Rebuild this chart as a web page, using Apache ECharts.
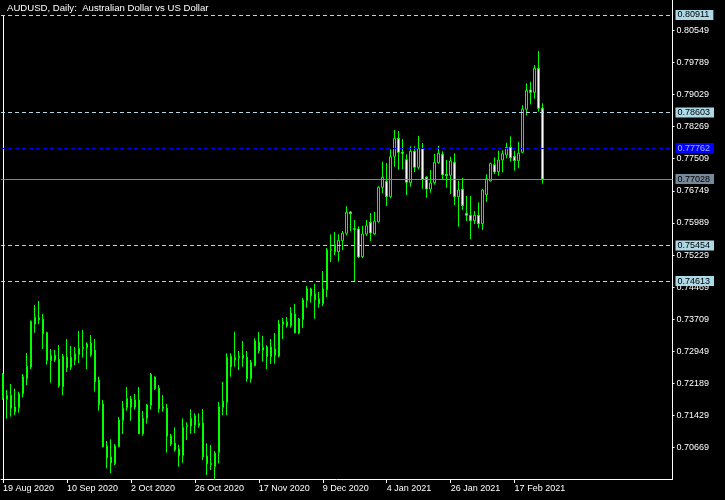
<!DOCTYPE html>
<html><head><meta charset="utf-8">
<script src="https://cdn.jsdelivr.net/npm/echarts@6/dist/echarts.min.js"></script>
<style>html,body{margin:0;padding:0;background:#000;}#c{width:725px;height:500px;}</style>
</head><body><div id="c"></div>
<script>
// Daily AUDUSD candles, 19 Aug 2020 .. 26 Feb 2021 (136 bars)
const openValues = [0.72413,0.71815,0.71909,0.71632,0.71616,0.71947,0.72302,0.72579,0.73590,0.73739,
0.73708,0.73391,0.72728,0.72856,0.72761,0.72113,0.72809,0.72572,0.72738,0.72870,
0.73012,0.73036,0.73140,0.72974,0.72271,0.71703,0.70709,0.70449,0.70290,0.70693,
0.71308,0.71616,0.71822,0.71632,0.71798,0.71000,0.71365,0.71673,0.72342,0.72075,
0.71592,0.71602,0.70946,0.70773,0.70631,0.70480,0.71166,0.71182,0.71419,0.71190,
0.71247,0.70472,0.70295,0.70219,0.70551,0.71625,0.71734,0.72832,0.72745,0.72799,
0.72856,0.72809,0.72302,0.72610,0.73171,0.72974,0.73053,0.72823,0.73005,0.72839,
0.73590,0.73644,0.73557,0.73834,0.73377,0.73699,0.74148,0.74425,0.74307,0.74189,
0.74077,0.74409,0.75337,0.75474,0.75308,0.75569,0.75744,0.76248,0.75834,0.75846,
0.75190,0.75727,0.76004,0.75727,0.76018,0.76833,0.76975,0.76610,0.77566,0.77992,
0.77661,0.77486,0.76942,0.77685,0.77306,0.77746,0.77069,0.76792,0.76942,0.77415,
0.77614,0.77140,0.77117,0.77424,0.76610,0.76785,0.76217,0.76170,0.76042,0.76170,
0.75971,0.76657,0.76982,0.77368,0.77202,0.77479,0.77597,0.77779,0.77566,0.77462,
0.77661,0.78679,0.79136,0.79081,0.79649,0.78703];
const closeValues = [0.71834,0.71909,0.71602,0.71521,0.71940,0.72342,0.72596,0.73661,0.73756,0.73699,
0.73367,0.72738,0.72856,0.72745,0.72136,0.72832,0.72563,0.72809,0.72887,0.73022,
0.73045,0.73124,0.72870,0.72231,0.71687,0.70693,0.70432,0.70314,0.70709,0.71325,
0.71602,0.71838,0.71632,0.71798,0.71000,0.71365,0.71680,0.72406,0.72065,0.71592,
0.71632,0.70939,0.70757,0.70614,0.70480,0.71152,0.71190,0.71365,0.71199,0.71247,
0.70456,0.70290,0.70271,0.70543,0.71639,0.71767,0.72809,0.72586,0.72809,0.72832,
0.72792,0.72302,0.72690,0.73195,0.72965,0.73045,0.72823,0.73053,0.72856,0.73597,
0.73651,0.73557,0.73857,0.73391,0.73715,0.74165,0.74425,0.74267,0.74172,0.74077,
0.74425,0.75349,0.75361,0.75308,0.75578,0.75744,0.76241,0.76208,0.75857,0.75183,
0.75727,0.75924,0.75751,0.76028,0.76833,0.77069,0.76610,0.77557,0.77992,0.77661,
0.77637,0.76951,0.77685,0.77306,0.77756,0.77022,0.76792,0.76934,0.77424,0.77637,
0.77131,0.77107,0.77455,0.76610,0.76769,0.76397,0.76170,0.76042,0.76170,0.75971,
0.76769,0.77036,0.77391,0.77195,0.77479,0.77628,0.77779,0.77533,0.77462,0.77637,
0.78679,0.79129,0.79081,0.79649,0.78703,0.77028];
const lowValues = [0.71798,0.71355,0.71403,0.71443,0.71497,0.71862,0.72153,0.72532,0.73391,0.73590,
0.73005,0.72634,0.72208,0.72697,0.72089,0.71916,0.72461,0.72508,0.72626,0.72674,
0.72799,0.72532,0.72823,0.71994,0.71545,0.70678,0.70181,0.70070,0.70259,0.70680,
0.70993,0.71545,0.71308,0.71568,0.70990,0.70953,0.71237,0.71568,0.72035,0.71497,
0.71521,0.70551,0.70709,0.70574,0.70219,0.70314,0.70851,0.71000,0.71016,0.71142,
0.70378,0.70023,0.70141,0.69930,0.70300,0.71443,0.71443,0.72350,0.72586,0.72508,
0.72586,0.72231,0.72208,0.72596,0.72903,0.72705,0.72532,0.72650,0.72657,0.72809,
0.73242,0.73509,0.73509,0.73377,0.73353,0.73502,0.73983,0.74101,0.73722,0.73983,
0.74023,0.74236,0.75064,0.75230,0.75072,0.75349,0.75696,0.75798,0.74613,0.75159,
0.75159,0.75680,0.75562,0.75704,0.75995,0.76698,0.76390,0.76572,0.77320,0.77249,
0.77266,0.76650,0.76847,0.77195,0.77259,0.76799,0.76586,0.76705,0.76894,0.77391,
0.77022,0.76823,0.76674,0.76414,0.75900,0.76295,0.76035,0.75609,0.75964,0.75862,
0.75822,0.76485,0.76965,0.77147,0.77107,0.77188,0.77519,0.77439,0.77226,0.77282,
0.77637,0.78537,0.78797,0.78930,0.78622,0.76918];
const highValues = [0.72437,0.72035,0.72177,0.72065,0.71994,0.72413,0.72910,0.73680,0.74047,0.74141,
0.73834,0.73415,0.73005,0.72981,0.73100,0.72887,0.73242,0.73076,0.73053,0.73431,
0.73455,0.73164,0.73337,0.73242,0.72350,0.71798,0.70828,0.70868,0.70757,0.71396,
0.71774,0.72106,0.71893,0.71940,0.72106,0.71538,0.71703,0.72437,0.72359,0.72153,
0.71916,0.71703,0.70993,0.71152,0.70740,0.71365,0.71270,0.71578,0.71483,0.71483,
0.71585,0.70773,0.70733,0.70591,0.71751,0.72224,0.72903,0.72903,0.73415,0.72958,
0.73195,0.72958,0.72745,0.73258,0.73408,0.73313,0.73093,0.73242,0.73384,0.73692,
0.73739,0.73763,0.73999,0.74070,0.73739,0.74212,0.74496,0.74456,0.74544,0.74354,
0.74851,0.75396,0.75720,0.75775,0.75720,0.75798,0.76383,0.76272,0.76059,0.75909,
0.75924,0.76059,0.76224,0.76248,0.76856,0.77439,0.77408,0.77732,0.78189,0.78165,
0.77976,0.77614,0.77803,0.77803,0.78047,0.77881,0.77100,0.77242,0.77621,0.77810,
0.77685,0.77479,0.77557,0.77637,0.76989,0.77053,0.76627,0.76627,0.76272,0.76478,
0.76792,0.77140,0.77415,0.77543,0.77699,0.77708,0.77888,0.78040,0.77699,0.77905,
0.78774,0.79294,0.79332,0.79727,0.80059,0.78821];

const priceTicks = [0.70669,0.71429,0.72189,0.72949,0.73709,0.74469,0.75229,0.75989,0.76749,0.77509,0.78269,0.79029,0.79789,0.80549];
const levelLines = [0.80911,0.78603,0.75454,0.74613];
const blueLevel = 0.77762;
const bidPrice = 0.77028;
const yMin = 0.69928, yMax = 0.81266;
const firstDay = '2020-08-19';
const closedDays = ['2020-12-25','2021-01-01'];
const labelEvery = 16;
const emptySlots = 32;
const title = 'AUDUSD, Daily:  Australian Dollar vs US Dollar';

const MONTHS = ['Jan','Feb','Mar','Apr','May','Jun','Jul','Aug','Sep','Oct','Nov','Dec'];
const dates = [];
(function(){
  const d = new Date(firstDay + 'T12:00:00Z');
  while (dates.length < openValues.length) {
    const iso = d.toISOString().slice(0,10);
    const wd = d.getUTCDay();
    if (wd !== 0 && wd !== 6 && closedDays.indexOf(iso) < 0) {
      dates.push(d.getUTCDate() + ' ' + MONTHS[d.getUTCMonth()] + ' ' + d.getUTCFullYear());
    }
    d.setUTCDate(d.getUTCDate() + 1);
  }
})();
const categories = dates.concat(new Array(emptySlots).fill(''));
const candles = dates.map((_, i) => [openValues[i], closeValues[i], lowValues[i], highValues[i]]);
const FONT = 'Liberation Sans';
const showIdx = (i) => i % labelEvery === 0 && i < dates.length;

function levelItem(v, lineColor, type, boxColor, textColor) {
  return {
    yAxis: v,
    lineStyle: { color: lineColor, type: type, width: 1 },
    label: {
      show: true, position: 'end', distance: 3,
      formatter: () => v.toFixed(5),
      backgroundColor: boxColor, color: textColor,
      fontFamily: FONT, fontSize: 9, lineHeight: 9,
      padding: [1, 4, 0, 2]
    }
  };
}

const chart = echarts.init(document.getElementById('c'), null, { renderer: 'canvas' });
chart.setOption({
  backgroundColor: '#000000',
  animation: false,
  title: {
    text: title, left: 0, top: 0,
    padding: [3, 4, 2, 7],
    backgroundColor: '#000000',
    textStyle: { color: '#ffffff', fontFamily: FONT, fontSize: 9.6, fontWeight: 'normal' }
  },
  grid: { left: 0.5, right: 52.5, top: 0, bottom: 21, containLabel: false },
  xAxis: {
    type: 'category', data: categories, boundaryGap: true,
    axisLine: { show: true, lineStyle: { color: '#ffffff', width: 1 } },
    axisTick: { show: true, alignWithLabel: true, interval: showIdx, length: 4, lineStyle: { color: '#ffffff' } },
    axisLabel: { show: true, interval: showIdx, align: 'left', color: '#ffffff', fontFamily: FONT, fontSize: 9, margin: 5 },
    splitLine: { show: false }
  },
  yAxis: [{
    type: 'value', position: 'right', min: yMin, max: yMax,
    axisLine: { show: true, lineStyle: { color: '#ffffff', width: 1 } },
    axisTick: { show: true, length: 2, customValues: priceTicks, lineStyle: { color: '#ffffff' } },
    axisLabel: { show: true, customValues: priceTicks, formatter: (v) => Number(v).toFixed(5), color: '#ffffff', fontFamily: FONT, fontSize: 9, margin: 4 },
    splitLine: { show: false }
  }, {
    type: 'value', position: 'left', min: yMin, max: yMax, offset: -2,
    axisLine: { show: true, lineStyle: { color: '#ffffff', width: 1 } },
    axisTick: { show: false }, axisLabel: { show: false }, splitLine: { show: false }
  }],
  series: [{
    type: 'candlestick',
    data: candles,
    barWidth: 2,
    silent: true,
    itemStyle: {
      color: '#000000', color0: '#ffffff',
      borderColor: '#00ff00', borderColor0: '#00ff00', borderColorDoji: '#00ff00',
      borderWidth: 1
    },
    markLine: {
      silent: true, symbol: 'none', animation: false, precision: 5,
      data: levelLines.map(v => levelItem(v, '#add8e6', [4, 3], '#add8e6', '#000000'))
        .concat([levelItem(blueLevel, '#0000ff', [4, 3], '#0000ff', '#a8b4e8'),
                 levelItem(bidPrice, '#778899', 'solid', '#778899', '#000000')])
    }
  }]
});
</script></body></html>
